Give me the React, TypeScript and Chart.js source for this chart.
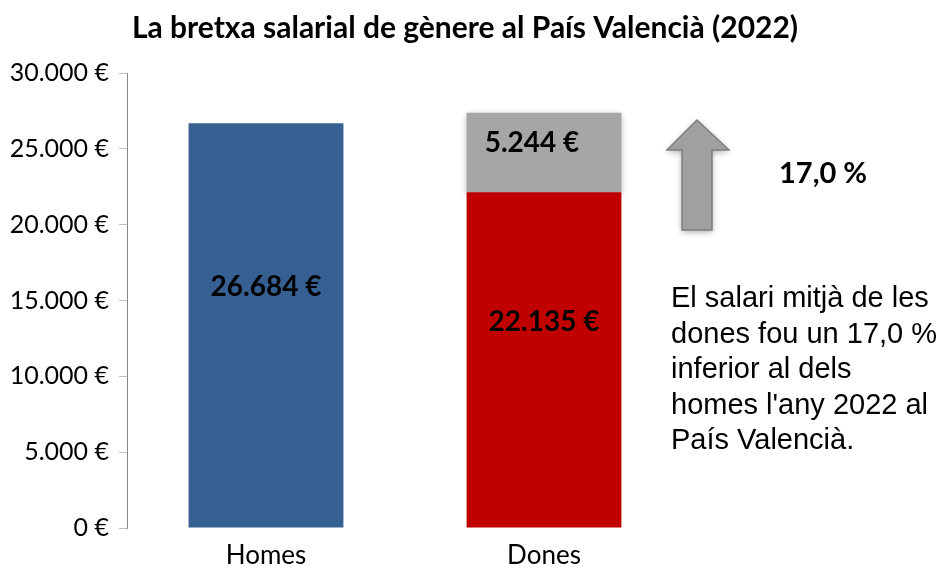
import React, { useEffect, useRef } from "react";
import { Chart, registerables } from "chart.js";

Chart.register(...registerables);

const categories = ["Homes", "Dones"];
const salaryValues = [26684, 22135];
const gapValues = [null, 5244];
const yTicks = [0, 5000, 10000, 15000, 20000, 25000, 30000];
const titleText = "La bretxa salarial de gènere al País Valencià (2022)";
const gapPercent = "17,0 %";
const noteLines = [
  "El salari mitjà de les",
  "dones fou un 17,0 %",
  "inferior al dels",
  "homes l'any 2022 al",
  "País Valencià.",
];

const fmt = (v: number) =>
  String(v).replace(/\B(?=(\d{3})+(?!\d))/g, ".") + " €";

const FONT = "Lato, 'Open Sans', sans-serif";

const decor = {
  id: "decor",
  beforeDatasetDraw(chart: any, args: any) {
    if (args.index === 1) {
      const ctx = chart.ctx;
      ctx.save();
      ctx.shadowColor = "rgba(0,0,0,0.35)";
      ctx.shadowBlur = 6;
      ctx.shadowOffsetY = 2;
    }
  },
  afterDatasetDraw(chart: any, args: any) {
    if (args.index === 1) chart.ctx.restore();
  },
  afterDraw(chart: any) {
    const ctx = chart.ctx;
    ctx.save();
    // title
    ctx.fillStyle = "#000";
    ctx.font = `bold 30px ${FONT}`;
    ctx.textAlign = "center";
    ctx.textBaseline = "middle";
    ctx.fillText(titleText, 465, 28);

    // data labels
    ctx.font = `bold 28px ${FONT}`;
    const m0 = chart.getDatasetMeta(0);
    const m1 = chart.getDatasetMeta(1);
    m0.data.forEach((bar: any, i: number) => {
      const v = salaryValues[i];
      const cy = (bar.y + bar.base) / 2 - 38;
      ctx.fillText(fmt(v), bar.x, cy);
    });
    m1.data.forEach((bar: any, i: number) => {
      const v = gapValues[i];
      if (v == null) return;
      const cy = (bar.y + bar.base) / 2 - 10;
      ctx.fillText(fmt(v), bar.x - 12, cy);
    });

    // arrow
    ctx.beginPath();
    ctx.moveTo(697, 120);
    ctx.lineTo(729, 150);
    ctx.lineTo(712, 150);
    ctx.lineTo(712, 230);
    ctx.lineTo(682, 230);
    ctx.lineTo(682, 150);
    ctx.lineTo(667, 150);
    ctx.closePath();
    ctx.shadowColor = "rgba(0,0,0,0.35)";
    ctx.shadowBlur = 6;
    ctx.shadowOffsetY = 2;
    ctx.fillStyle = "#A0A0A0";
    ctx.fill();
    ctx.shadowColor = "transparent";
    ctx.strokeStyle = "#7F7F7F";
    ctx.lineWidth = 1.5;
    ctx.stroke();

    // percent
    ctx.fillStyle = "#000";
    ctx.font = `bold 29px ${FONT}`;
    ctx.textAlign = "left";
    ctx.fillText(gapPercent, 779, 174);

    // note
    ctx.font = "29px 'Liberation Sans', Arial, sans-serif";
    noteLines.forEach((l, i) => ctx.fillText(l, 671, 299 + i * 35.5));
    ctx.restore();
  },
};

export default function App() {
  const ref = useRef<HTMLCanvasElement>(null);
  useEffect(() => {
    document.body.style.margin = "0";
    const chart = new Chart(ref.current!, {
      type: "bar",
      data: {
        labels: categories,
        datasets: [
          {
            data: salaryValues,
            backgroundColor: ["#376092", "#C00000"],
            barPercentage: 0.557,
            categoryPercentage: 1,
          },
          {
            data: gapValues as any,
            backgroundColor: "#A6A6A6",
            barPercentage: 0.557,
            categoryPercentage: 1,
          },
        ],
      },
      options: {
        animation: false,
        responsive: false,
        maintainAspectRatio: false,
        layout: { padding: { top: 73, right: 261, bottom: 0, left: 0 } },
        plugins: {
          legend: { display: false },
          tooltip: { enabled: false },
          title: { display: false },
        },
        scales: {
          x: {
            stacked: true,
            grid: { display: false },
            border: { display: false },
            ticks: {
              color: "#000",
              font: { family: FONT, size: 26 },
              padding: 4,
            },
            afterFit: (s: any) => {
              s.height = 40;
            },
          },
          y: {
            stacked: true,
            min: 0,
            max: 30000,
            afterBuildTicks: (s: any) => {
              s.ticks = yTicks.map((v) => ({ value: v }));
            },
            grid: {
              drawOnChartArea: false,
              drawTicks: true,
              tickLength: 8,
              color: "#BFBFBF",
            },
            border: { display: true, color: "#868686", width: 1 },
            ticks: {
              color: "#000",
              font: { family: FONT, size: 25 },
              padding: 10,
              callback: (v: any) => fmt(Number(v)),
            },
            afterFit: (s: any) => {
              s.width = 127;
            },
          },
        },
      },
      plugins: [decor],
    });
    return () => chart.destroy();
  }, []);
  return <canvas ref={ref} width={944} height={568} />;
}
